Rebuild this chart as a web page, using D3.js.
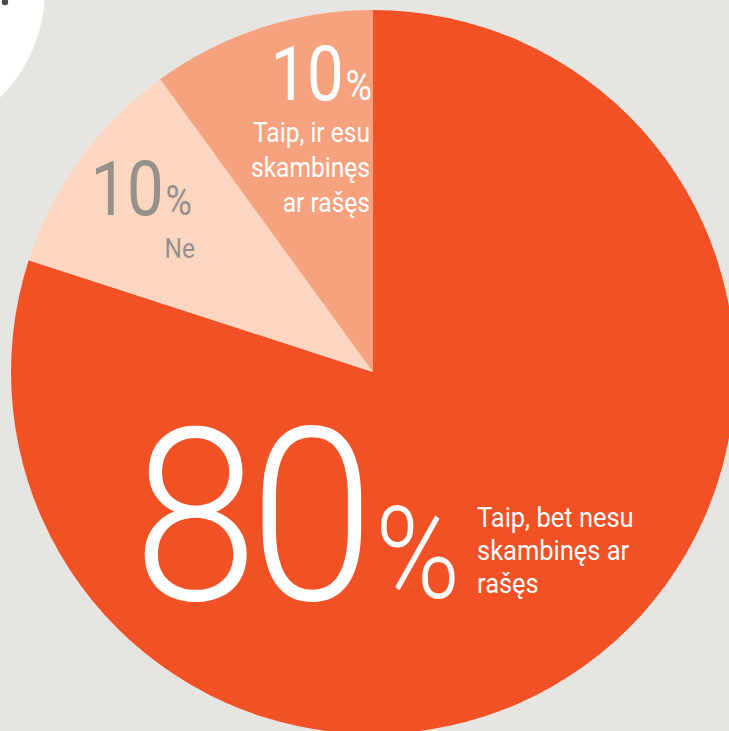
<!DOCTYPE html>
<html>
<head>
<meta charset="utf-8">
<script src="https://cdn.jsdelivr.net/npm/d3@7/dist/d3.min.js"></script>
<style>
  html, body { margin: 0; padding: 0; background: #e6e5e1; overflow: hidden; }
  svg { display: block; }
  text { font-family: Roboto, "Noto Sans", sans-serif; }
</style>
</head>
<body>
<svg id="chart" width="729" height="731"></svg>
<script>
// data
const answers = ["Taip, bet nesu skambinęs ar rašęs", "Ne", "Taip, ir esu skambinęs ar rašęs"];
const shares = [80, 10, 10];
const labelLines = [
    ["Taip, bet nesu", "skambinęs ar", "rašęs"],
    ["Ne"],
    ["Taip, ir esu", "skambinęs", "ar rašęs"]
];
const colors = ["#f15124", "#fdd6c2", "#f7a27e"];
const numberColors = ["#ffffff", "#96928b", "#ffffff"];

document.addEventListener("DOMContentLoaded", function() {
    const svg = d3.select("#chart");

    const cx = 373, cy = 372, radius = 362;

    // decoration top-left
    svg.append("circle")
        .attr("cx", -106).attr("cy", -10).attr("r", 151)
        .attr("fill", "#ffffff");
    svg.append("circle")
        .attr("cx", 5).attr("cy", 2).attr("r", 3.2)
        .attr("fill", "#4b4a47");

    const g = svg.append("g")
        .attr("transform", "translate(" + cx + "," + cy + ")");

    const pie = d3.pie().sort(null).value(d => d);
    const arcs = pie(shares);
    const arc = d3.arc().innerRadius(0).outerRadius(radius);

    g.selectAll("path.slice")
        .data(arcs)
        .enter().append("path")
        .attr("class", "slice")
        .attr("d", arc)
        .attr("fill", (d, i) => colors[i]);

    const squeeze = 0.86;
    const labSqueeze = 0.91;

    // big slice label
    g.append("g").attr("transform", "translate(-240,228) scale(0.93,1)")
        .append("text")
        .attr("font-size", 242).attr("font-weight", 300)
        .attr("fill", numberColors[0])
        .attr("letter-spacing", -9)
        .text(shares[0]);
    g.append("g").attr("transform", "translate(2,226) scale(0.9,1)")
        .append("text")
        .attr("font-size", 128).attr("font-weight", 300)
        .attr("fill", numberColors[0])
        .text("%");
    const bigLab = g.append("g").attr("transform", "translate(104,155) scale(" + labSqueeze + ",1)");
    bigLab.selectAll("text")
        .data(labelLines[0])
        .enter().append("text")
        .attr("x", 0).attr("y", (d, i) => i * 33)
        .attr("font-size", 28).attr("fill", "#ffffff")
        .text(d => d);

    // small slices: number + % + label lines
    function smallLabel(i, x, y, labX, labY, lineH) {
        const grp = g.append("g").attr("transform", "translate(" + x + "," + y + ") scale(" + squeeze + ",1)");
        const t = grp.append("text")
            .attr("text-anchor", "end")
            .attr("fill", numberColors[i]);
        t.append("tspan").attr("font-size", 76).text(shares[i]);
        t.append("tspan").attr("font-size", 42).attr("dx", 2).text("%");

        const lab = g.append("g").attr("transform", "translate(" + labX + "," + labY + ") scale(" + labSqueeze + ",1)");
        lab.selectAll("text")
            .data(labelLines[i])
            .enter().append("text")
            .attr("x", 0).attr("y", (d, k) => k * lineH)
            .attr("text-anchor", "end")
            .attr("font-size", 27)
            .attr("fill", numberColors[i])
            .text(d => d);
    }

    smallLabel(2, -1, -272, -3, -230, 35);
    smallLabel(1, -181, -157, -178, -114, 35);
});
</script>
</body>
</html>
